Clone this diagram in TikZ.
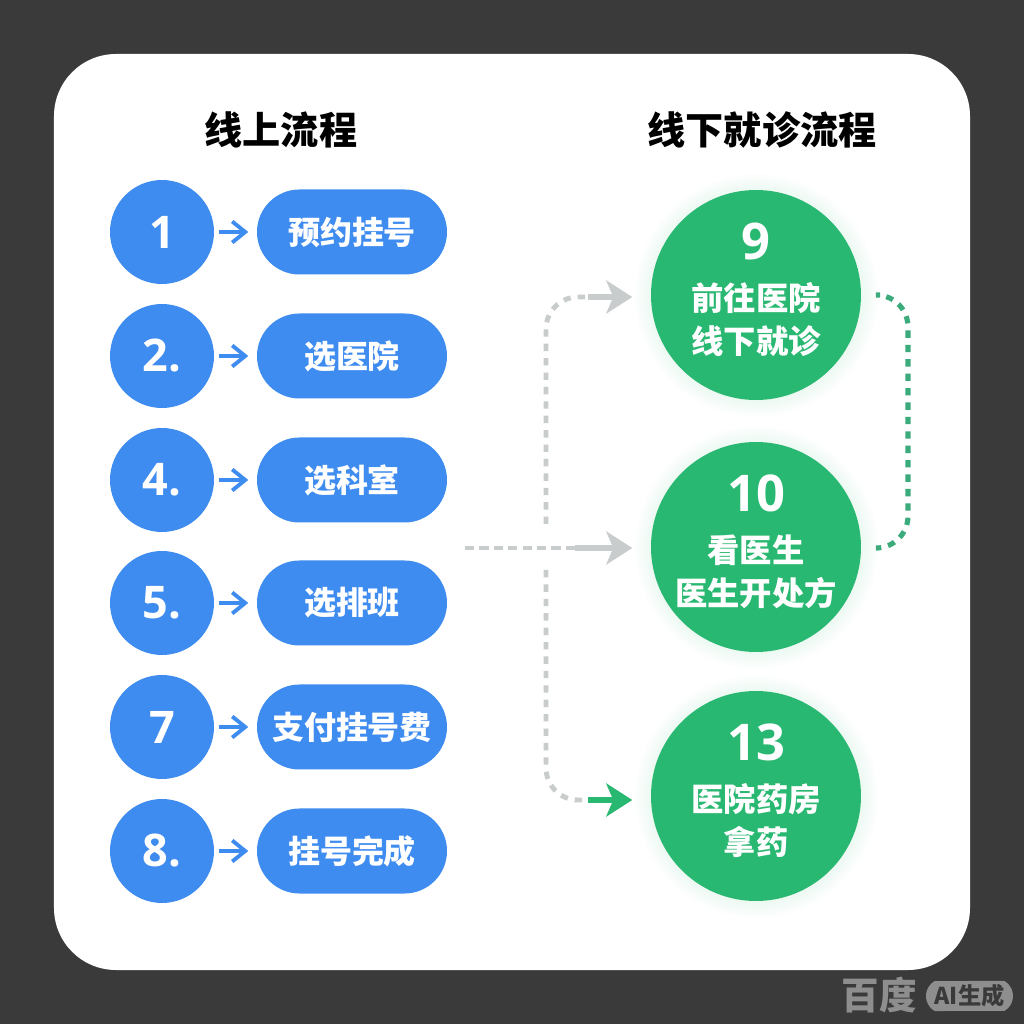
\documentclass[tikz,border=0pt]{standalone}
\usepackage{fontspec}
\setmainfont{Noto Sans CJK SC}
\newfontfamily\numfont{Open Sans}
\usepackage{tikz}
\usetikzlibrary{shapes.misc, arrows.meta, positioning, calc}
\definecolor{bgdark}{HTML}{3A3A3A}
\definecolor{stepblue}{HTML}{3F8CF0}
\definecolor{stepgreen}{HTML}{29B871}
\definecolor{linkgreen}{HTML}{3CAB7C}
\definecolor{linkgray}{HTML}{C9CCCC}
\definecolor{markgray}{HTML}{8E8E8E}

\begin{document}
\begin{tikzpicture}[font=\bfseries, >=Stealth,
    title/.style={font=\fontsize{10.85}{12}\selectfont\bfseries, text=black},
    numcircle/.style={circle, fill=stepblue, text=white, minimum size=1.04cm, inner sep=0pt,
        font=\fontsize{12.8}{14}\selectfont\numfont\bfseries},
    stepbox/.style={rounded rectangle, fill=stepblue, text=white, minimum width=1.9cm,
        minimum height=0.85cm, inner sep=0pt, font=\fontsize{9.1}{11}\selectfont\bfseries},
    visit/.style={circle, fill=stepgreen, text=white, minimum size=2.1cm, inner sep=-8pt,
        text depth=0.14cm, align=center, font=\fontsize{9.2}{12.2}\selectfont\bfseries},
    glow/.style={circle, minimum size=2.46cm, inner sep=0pt, shading=radial,
        inner color=stepgreen!60!white, outer color=white},
    bluearrow/.style={->, draw=stepblue, line width=1.1pt, shorten <=0.04cm, shorten >=0.08cm,
        >={Straight Barb[length=0.13cm, width=0.21cm]}},
    graydash/.style={draw=linkgray, line width=1.4pt, dash pattern=on 2.1pt off 2pt},
    hubdash/.style={draw=linkgray, line width=1.4pt, dash pattern=on 2.6pt off 1.5pt},
    greendash/.style={draw=linkgreen, line width=1.45pt, dash pattern=on 2.1pt off 2pt},
    bigarrow/.style={->, line width=1.8pt, shorten >=0.18cm,
        >={Stealth[length=0.26cm, width=0.33cm, inset=0.07cm]}},
    ]
    \useasboundingbox (0,0) rectangle (10.24,10.24);
    \fill[bgdark] (0,0) rectangle (10.24,10.24);
    \fill[white, rounded corners=0.62cm] (0.54,0.54) rectangle (9.70,9.70);

    \node[title] (online) at (2.81, 8.94) {线上流程};
    \node[title] (offline) at (7.62, 8.94) {线下就诊流程};

    % left column
    \node[numcircle] (n1) at (1.62, 7.92) {1};
    \node[numcircle] (n2) at (1.62, 6.68) {2.};
    \node[numcircle] (n4) at (1.62, 5.44) {4.};
    \node[numcircle] (n5) at (1.62, 4.21) {5.};
    \node[numcircle] (n7) at (1.62, 2.97) {7};
    \node[numcircle] (n8) at (1.62, 1.73) {8.};

    \node[stepbox] (book) at (3.52, 7.92) {预约挂号};
    \node[stepbox] (hospital) at (3.52, 6.68) {选医院};
    \node[stepbox] (dept) at (3.52, 5.44) {选科室};
    \node[stepbox] (shift) at (3.52, 4.21) {选排班};
    \node[stepbox] (fee) at (3.52, 2.97) {支付挂号费};
    \node[stepbox] (done) at (3.52, 1.73) {挂号完成};

    \draw[bluearrow] (n1) -- (book);
    \draw[bluearrow] (n2) -- (hospital);
    \draw[bluearrow] (n4) -- (dept);
    \draw[bluearrow] (n5) -- (shift);
    \draw[bluearrow] (n7) -- (fee);
    \draw[bluearrow] (n8) -- (done);

    % right column
    \node[glow] (glow9) at (7.56, 7.29) {};
    \node[glow] (glow10) at (7.56, 4.77) {};
    \node[glow] (glow13) at (7.56, 2.28) {};

    \node[visit] (goto) at (7.56, 7.29) {{\fontsize{14.4}{16}\selectfont\numfont\bfseries 9}\\[2.2pt]前往医院\\线下就诊};
    \node[visit] (doctor) at (7.56, 4.77) {{\fontsize{14.4}{16}\selectfont\numfont\bfseries 10}\\[2.2pt]看医生\\医生开处方};
    \node[visit] (pharmacy) at (7.56, 2.28) {{\fontsize{14.4}{16}\selectfont\numfont\bfseries 13}\\[2.2pt]医院药房\\拿药};

    \coordinate (hub) at (4.65, 4.76);
    \coordinate (join10) at (5.75, 4.76);
    \coordinate (up) at (5.46, 5.00);
    \coordinate (join9) at (5.88, 7.27);
    \coordinate (down) at (5.46, 4.54);
    \coordinate (join13) at (5.88, 2.24);
    \coordinate (out9) at (8.80, 7.29);
    \coordinate (out10) at (8.80, 4.76);

    \draw[graydash, rounded corners=0.32cm] (up) |- (join9);
    \draw[graydash, rounded corners=0.32cm] (down) |- (join13);
    \draw[hubdash] (hub) -- (join10);
    \draw[greendash, rounded corners=0.32cm] (out9) -| ($(out10)+(0.28,0)$) -- (out10);

    \draw[bigarrow, draw=linkgray, fill=linkgray] (join9) -- (join9 -| goto.west);
    \draw[bigarrow, draw=linkgray, fill=linkgray] (join10) -- (join10 -| doctor.west);
    \draw[bigarrow, draw=stepgreen, fill=stepgreen] (join13) -- (join13 -| pharmacy.west);

    % mark in the corner
    \node[text=markgray, font=\fontsize{10.7}{12}\selectfont\bfseries] (brand) at (8.79, 0.29) {百度};
    \node[rounded rectangle, rounded rectangle arc length=120, fill=markgray, text=bgdark, minimum width=0.87cm, minimum height=0.30cm,
        inner sep=0pt, font=\fontsize{6.6}{8}\selectfont\bfseries] (tag) at (9.695, 0.28) {AI生成};
\end{tikzpicture}
\end{document}
